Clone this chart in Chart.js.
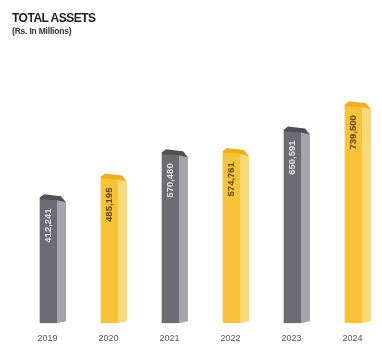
<!DOCTYPE html>
<html>
<head>
<meta charset="utf-8">
<script src="https://cdn.jsdelivr.net/npm/chart.js@4.4.1/dist/chart.umd.min.js"></script>
<style>
  html, body { margin: 0; padding: 0; background: #ffffff; overflow: hidden; }
  #wrap { position: relative; width: 400px; height: 360px; }
  #chart { position: absolute; left: 0; top: 0; }
  .title { position: absolute; left: 12px; top: 11px; font: bold 12px "Liberation Sans Narrow", "Liberation Sans", Arial, sans-serif; color: #222; letter-spacing: -0.5px; }
  .sub { position: absolute; left: 12px; top: 26px; font: bold 8.5px "Liberation Sans Narrow", "Liberation Sans", Arial, sans-serif; color: #333; letter-spacing: -0.2px; }
</style>
</head>
<body>
<div id="wrap">
  <canvas id="chart" width="400" height="360"></canvas>
  <div class="title">TOTAL ASSETS</div>
  <div class="sub">(Rs. In Millions)</div>
</div>
<script>
// Total assets by year, Rs. in millions
const years = ["2019", "2020", "2021", "2022", "2023", "2024"];
const totalAssets = [412.241, 485.195, 570.480, 574.761, 650.591, 739.500];
const valueLabels = ["412,241", "485,195", "570,480", "574,761", "650,591", "739,500"];

// Alternating grey / yellow columns
const palette = {
  grey:   { front: "#6c6c72", side: "#a4a4a9", top: "#505056", text: "#e2e2e2" },
  yellow: { front: "#f8c338", side: "#fcd978", top: "#eab020", text: "#5a4300" }
};
const tone = i => (i % 2 === 0 ? palette.grey : palette.yellow);

const SIDE_W = 9;   // depth of the right-hand face
const SLANT = 5;    // drop of the top edge across the depth

// Draws the side face, top cap and rotated value of each column
const columnFaces = {
  id: "columnFaces",
  afterDatasetsDraw(chart) {
    const ctx = chart.ctx;
    const meta = chart.getDatasetMeta(0);
    meta.data.forEach((bar, i) => {
      const c = tone(i);
      const { x, y, base, width } = bar.getProps(["x", "y", "base", "width"], true);
      const left = x - width / 2, right = x + width / 2;
      ctx.save();
      // side face
      ctx.fillStyle = c.side;
      ctx.beginPath();
      ctx.moveTo(right, y);
      ctx.lineTo(right + SIDE_W, y + SLANT);
      ctx.lineTo(right + SIDE_W, base - 2);
      ctx.lineTo(right, base);
      ctx.closePath();
      ctx.fill();
      // top cap
      ctx.fillStyle = c.top;
      ctx.beginPath();
      ctx.moveTo(left, y);
      ctx.lineTo(left + 4, y - 3);
      ctx.lineTo(right + 4, y - 1);
      ctx.lineTo(right + SIDE_W, y + SLANT);
      ctx.lineTo(right, y + 3);
      ctx.lineTo(left, y + 2);
      ctx.closePath();
      ctx.fill();
      // value label, reading bottom to top
      ctx.translate(x, y + 11);
      ctx.rotate(-Math.PI / 2);
      ctx.fillStyle = c.text;
      ctx.font = "bold 9.5px 'Liberation Sans Narrow', 'Liberation Sans', Arial, sans-serif";
      ctx.textAlign = "right";
      ctx.textBaseline = "middle";
      ctx.fillText(valueLabels[i], 0, 0);
      ctx.restore();
    });
  }
};

new Chart(document.getElementById("chart"), {
  type: "bar",
  data: {
    labels: years,
    datasets: [{
      label: "Total Assets",
      data: totalAssets,
      backgroundColor: years.map((_, i) => tone(i).front),
      borderWidth: 0,
      barThickness: 17,
      base: -30
    }]
  },
  options: {
    responsive: false,
    animation: false,
    layout: { padding: { top: 87, left: 18, right: 16, bottom: 14 } },
    plugins: { legend: { display: false }, tooltip: { enabled: false } },
    scales: {
      x: {
        grid: { display: false },
        border: { display: false },
        ticks: {
          color: "#555",
          padding: 2,
          labelOffset: -1,
          font: { family: "'Liberation Sans Narrow', 'Liberation Sans', Arial, sans-serif", size: 9 }
        }
      },
      y: {
        display: false,
        min: -30,
        max: 800
      }
    }
  },
  plugins: [columnFaces]
});
</script>
</body>
</html>
